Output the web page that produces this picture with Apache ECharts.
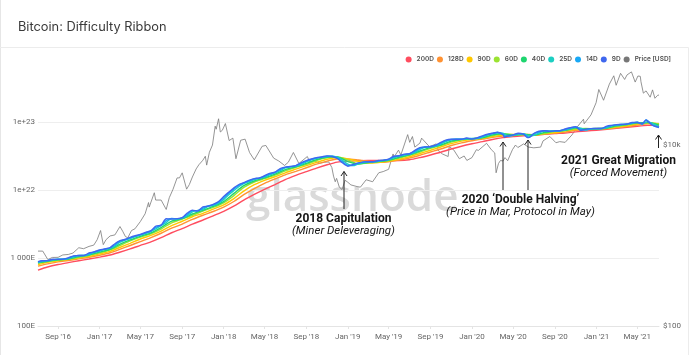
<!DOCTYPE html>
<html>
<head>
<meta charset="utf-8">
<script src="https://cdn.jsdelivr.net/npm/echarts@6/dist/echarts.min.js"></script>
<style>
html,body{margin:0;padding:0;background:#fff;}
#chart{width:700px;height:355px;}
</style>
</head>
<body>
<div id="chart"></div>
<script>
// ---- Difficulty ribbon (difficulty in T; plotted on a hidden axis equal to hashes = difficulty * 2^32) ----
const shortDates = [
'2016-07-04','2016-07-16','2016-08-01','2016-08-16','2016-09-01','2016-09-16','2016-10-01','2016-10-16','2016-11-01','2016-11-16','2016-12-01','2016-12-16',
'2017-01-01','2017-01-16','2017-02-01','2017-02-16','2017-03-01','2017-03-16','2017-04-01','2017-04-16','2017-05-01','2017-05-16','2017-06-01','2017-06-16',
'2017-07-01','2017-07-16','2017-08-01','2017-08-16','2017-09-01','2017-09-16','2017-10-01','2017-10-16','2017-11-01','2017-11-16','2017-12-01','2017-12-16',
'2018-01-01','2018-01-16','2018-02-01','2018-02-16','2018-03-01','2018-03-16','2018-04-01','2018-04-16','2018-05-01','2018-05-16','2018-06-01','2018-06-16',
'2018-07-01','2018-07-16','2018-08-01','2018-08-16','2018-09-01','2018-09-16','2018-10-01','2018-10-16','2018-11-01','2018-11-16','2018-12-01','2018-12-16',
'2019-01-01','2019-01-16','2019-02-01','2019-02-16','2019-03-01','2019-03-16','2019-04-01','2019-04-16','2019-05-01','2019-05-16','2019-06-01','2019-06-16',
'2019-07-01','2019-07-16','2019-08-01','2019-08-16','2019-09-01','2019-09-16','2019-10-01','2019-10-16','2019-11-01','2019-11-16','2019-12-01','2019-12-16',
'2020-01-01','2020-01-16','2020-02-01','2020-02-16','2020-03-01','2020-03-16','2020-04-01','2020-04-06','2020-04-16','2020-05-01','2020-05-16','2020-06-01','2020-06-12','2020-06-16',
'2020-07-01','2020-07-16','2020-08-01','2020-08-16','2020-09-01','2020-09-16','2020-10-01','2020-10-16','2020-11-01','2020-11-16','2020-12-01','2020-12-16',
'2021-01-01','2021-01-16','2021-02-01','2021-02-16','2021-03-01','2021-03-16','2021-04-01','2021-04-16','2021-05-01','2021-05-16','2021-05-27','2021-06-01','2021-06-16','2021-07-04'
];
const d9 = [
0.206,0.212,0.213,0.223,0.222,0.224,0.234,0.250,0.254,0.254,0.276,0.286,
0.305,0.316,0.332,0.381,0.416,0.436,0.468,0.494,0.517,0.552,0.589,0.688,0.709,0.880,0.873,0.882,0.916,1.067,1.177,1.138,1.316,1.350,1.431,1.562,
1.863,2.168,2.528,2.820,2.980,3.233,3.428,3.501,3.773,4.082,4.273,4.813,5.050,5.158,5.327,5.832,6.301,6.659,6.961,7.125,7.394,7.238,6.759,5.847,
5.214,5.516,5.830,6.033,6.069,6.062,6.315,6.390,6.642,7.308,7.419,7.829,7.934,8.838,9.801,9.985,10.14,10.65,11.67,12.59,12.96,12.98,12.97,13.55,
13.04,13.62,14.58,15.40,15.88,16.43,15.10,13.91,14.56,15.06,15.91,15.33,13.73,13.73,15.78,17.04,17.35,16.95,17.25,17.35,18.35,19.17,19.85,17.43,18.29,18.61,
18.66,18.67,20.22,20.78,21.31,21.45,21.79,22.89,22.90,22.09,25.05,23.72,20.68,19.31
];
const d14 = [
0.203,0.211,0.213,0.220,0.223,0.223,0.231,0.246,0.254,0.254,0.269,0.285,
0.300,0.314,0.328,0.367,0.409,0.432,0.459,0.488,0.512,0.543,0.580,0.659,0.709,0.826,0.888,0.875,0.907,1.022,1.154,1.156,1.256,1.355,1.405,1.528,
1.778,2.094,2.434,2.752,2.947,3.163,3.385,3.489,3.692,4.006,4.233,4.655,5.015,5.133,5.280,5.686,6.191,6.575,6.888,7.092,7.318,7.306,6.892,6.099,
5.349,5.388,5.764,5.987,6.069,6.064,6.236,6.387,6.564,7.119,7.432,7.698,7.934,8.556,9.571,9.985,10.09,10.50,11.39,12.37,12.90,12.99,12.97,13.37,
13.24,13.39,14.34,15.20,15.78,16.28,15.61,14.48,14.36,14.95,15.67,15.57,14.23,13.83,15.70,16.64,17.35,17.08,17.13,17.35,18.04,18.99,19.68,18.23,17.82,18.63,
18.64,18.67,19.74,20.73,21.16,21.44,21.68,22.57,23.16,21.56,25.05,24.19,20.81,19.53
];
const d25 = [
0.200,0.209,0.213,0.217,0.223,0.223,0.228,0.240,0.252,0.254,0.262,0.281,
0.293,0.310,0.323,0.351,0.395,0.424,0.449,0.479,0.504,0.531,0.567,0.627,0.699,0.773,0.883,0.875,0.896,0.974,1.113,1.165,1.203,1.335,1.380,1.483,
1.679,1.986,2.310,2.647,2.887,3.079,3.313,3.460,3.605,3.897,4.162,4.480,4.918,5.094,5.224,5.521,6.023,6.446,6.781,7.030,7.229,7.343,7.052,6.404,
5.585,5.314,5.646,5.913,6.051,6.066,6.157,6.351,6.485,6.899,7.369,7.572,7.882,8.273,9.227,9.893,10.04,10.34,11.05,12.04,12.75,12.97,12.97,13.19,
13.38,13.24,14.00,14.91,15.60,16.10,15.97,15.39,14.42,14.77,15.39,15.72,14.71,14.41,14.88,16.05,17.19,17.20,17.05,17.30,17.73,18.69,19.44,18.96,17.67,18.46,
18.63,18.66,19.25,20.48,20.98,21.38,21.57,22.21,23.18,22.09,23.10,23.50,22.04,19.89
];
const monthDates = [
'2016-07-04','2016-08-01','2016-09-01','2016-10-01','2016-11-01','2016-12-01',
'2017-01-01','2017-02-01','2017-03-01','2017-04-01','2017-05-01','2017-06-01','2017-07-01','2017-08-01','2017-09-01','2017-10-01','2017-11-01','2017-12-01',
'2018-01-01','2018-02-01','2018-03-01','2018-04-01','2018-05-01','2018-06-01','2018-07-01','2018-08-01','2018-09-01','2018-10-01','2018-11-01','2018-12-01',
'2019-01-01','2019-02-01','2019-03-01','2019-04-01','2019-05-01','2019-06-01','2019-07-01','2019-08-01','2019-09-01','2019-10-01','2019-11-01','2019-12-01',
'2020-01-01','2020-02-01','2020-03-01','2020-04-01','2020-05-01','2020-06-01','2020-07-01','2020-08-01','2020-09-01','2020-10-01','2020-11-01','2020-12-01',
'2021-01-01','2021-02-01','2021-03-01','2021-04-01','2021-05-01','2021-06-01','2021-07-04'
];
const d40 = [0.198,0.209,0.219,0.2255,0.244,0.258,
0.284,0.313,0.369,0.429,0.485,0.544,0.651,0.811,0.881,1.033,1.171,1.334,
1.575,2.096,2.691,3.156,3.501,3.976,4.639,5.103,5.735,6.515,7.074,7.138,
6.102,5.608,5.906,6.112,6.386,7.060,7.667,8.710,9.779,10.69,12.18,12.89,
13.23,13.69,15.05,15.67,14.90,15.37,14.85,16.37,17.07,17.52,18.89,18.37,
18.49,19.03,20.48,21.39,22.59,22.93,20.89];
const d60 = [0.1955,0.206,0.2168,0.2242,0.2382,0.2553,
0.2763,0.306,0.353,0.4148,0.4715,0.5293,0.6205,0.7675,0.8718,0.9855,1.1413,1.2895,
1.5093,1.944,2.5433,3.0508,3.4215,3.8445,4.462,5.0075,5.556,6.3143,6.9548,7.1565,
6.441,5.6595,5.7895,6.0825,6.3045,6.8625,7.5305,8.4075,9.523,10.468,11.754,12.793,
13.144,13.561,14.638,15.60,15.18,15.12,15.108,15.778,17.03,17.38,18.48,18.68,
18.348,18.895,20.038,21.235,22.24,22.93,21.57];
const d90 = [0.1865,0.201,0.2112,0.2201,0.2326,0.2458,
0.2673,0.291,0.3325,0.3833,0.4428,0.5008,0.58,0.6982,0.8083,0.9415,1.0575,1.22,
1.4067,1.7552,2.2425,2.7828,3.2275,3.6503,4.1683,4.7077,5.3093,5.9425,6.6075,7.0095,
6.692,6.146,5.7807,5.907,6.2107,6.6223,7.176,8.0243,8.9497,9.9828,11.18,12.163,
12.964,13.368,14.194,15.005,15.273,15.327,14.945,15.725,16.218,17.24,18.02,18.34,
18.665,18.617,19.57,20.542,21.8,22.47,22.02];
const d128 = [0.1769,0.1911,0.2043,0.2139,0.2261,0.2384,
0.2555,0.2781,0.3115,0.3556,0.4065,0.4648,0.5384,0.6386,0.7344,0.8614,0.991,1.124,
1.3045,1.5912,1.987,2.444,2.9185,3.3905,3.8893,4.3706,4.941,5.5869,6.1868,6.6622,
6.6605,6.4226,6.1666,5.9304,6.0335,6.4289,6.8749,7.5639,8.4287,9.3341,10.503,11.506,
12.334,13.069,13.829,14.504,14.833,15.286,15.159,15.463,16.0,16.533,17.605,17.979,
18.351,18.734,19.198,19.97,21.02,21.943,21.858];
const d200 = [0.1547,0.1716,0.1866,0.199,0.2124,0.2251,
0.2397,0.2573,0.283,0.3164,0.3562,0.4025,0.4644,0.5478,0.6301,0.732,0.8434,0.9728,
1.1293,1.3561,1.6548,2.0026,2.3741,2.8038,3.3088,3.8112,4.3307,4.8924,5.4688,5.973,
6.1808,6.2697,6.3513,6.3373,6.2707,6.2849,6.4707,6.9755,7.6257,8.3578,9.3174,10.256,
11.14,11.978,12.893,13.704,14.165,14.599,14.823,15.346,15.744,16.061,16.668,17.128,
17.647,18.195,18.786,19.427,20.126,20.751,21.042];

// ---- Price [USD] ----
const priceDates = [
'2016-07-04','2016-07-18','2016-08-02','2016-08-15','2016-09-01','2016-09-15','2016-10-01','2016-10-15','2016-11-01','2016-11-15','2016-12-01','2016-12-15','2016-12-25',
'2017-01-04','2017-01-12','2017-01-20','2017-02-01','2017-02-15','2017-03-02','2017-03-10','2017-03-18','2017-03-25','2017-04-05','2017-04-15','2017-05-01','2017-05-15','2017-05-25','2017-05-27',
'2017-06-11','2017-06-15','2017-07-01','2017-07-16','2017-07-25','2017-08-05','2017-08-17','2017-08-24','2017-09-01','2017-09-14','2017-09-22','2017-10-01','2017-10-12','2017-10-20',
'2017-11-01','2017-11-08','2017-11-12','2017-11-20','2017-11-29','2017-12-07','2017-12-10','2017-12-17','2017-12-22','2017-12-28',
'2018-01-06','2018-01-17','2018-01-28','2018-02-06','2018-02-20','2018-03-05','2018-03-18','2018-04-01','2018-04-06','2018-04-24','2018-05-05','2018-05-28','2018-06-12','2018-06-29',
'2018-07-10','2018-07-25','2018-08-10','2018-08-14','2018-09-04','2018-09-12','2018-09-21','2018-10-11','2018-10-25','2018-11-06','2018-11-15','2018-11-20','2018-11-25','2018-11-29','2018-12-07','2018-12-15','2018-12-24',
'2019-01-01','2019-01-10','2019-01-28','2019-02-07','2019-02-24','2019-03-15','2019-04-02','2019-04-15','2019-05-01','2019-05-14','2019-05-17','2019-05-30','2019-06-06','2019-06-26',
'2019-07-02','2019-07-10','2019-07-17','2019-08-01','2019-08-06','2019-08-29','2019-09-18','2019-09-25','2019-10-06','2019-10-23','2019-10-26','2019-11-08','2019-11-25','2019-12-09','2019-12-17',
'2020-01-01','2020-01-14','2020-01-20','2020-02-13','2020-02-27','2020-03-08','2020-03-12','2020-03-19','2020-03-25','2020-04-01','2020-04-07','2020-04-15','2020-04-29','2020-05-08','2020-05-15',
'2020-06-01','2020-06-15','2020-07-01','2020-07-21','2020-07-28','2020-08-17','2020-09-04','2020-09-15','2020-10-01','2020-10-21','2020-11-05','2020-11-24','2020-11-26','2020-12-16','2020-12-31',
'2021-01-08','2021-01-22','2021-02-08','2021-02-21','2021-02-28','2021-03-13','2021-03-25','2021-04-01','2021-04-14','2021-04-25','2021-05-03','2021-05-10','2021-05-12','2021-05-19','2021-05-24',
'2021-05-27','2021-06-08','2021-06-15','2021-06-22','2021-06-30','2021-07-04'
];
const priceUSD = [
670,670,540,570,572,608,615,638,730,712,755,780,895,
1130,790,895,985,1010,1250,1110,970,940,1130,1180,1420,1730,2300,2050,
2950,2450,2450,1930,2600,3220,4300,4300,4890,3230,3630,4400,5400,6000,
6750,7450,5950,8250,9900,16000,14800,19300,13800,14400,
17100,11100,11800,7000,11200,11500,8200,6800,6600,9600,9800,7100,6600,5900,
6400,8200,6200,6000,7400,6300,6700,6250,6400,6450,5600,4500,3900,4250,3400,3200,4050,
3850,3600,3450,3400,4100,3900,4900,5050,5350,7900,7300,8700,7700,12900,
10600,12300,9400,10400,11800,9500,10200,8500,7900,7400,9500,8800,7000,7500,6700,
7200,8800,8650,10350,8800,8100,4900,6200,6700,6600,7200,6650,8800,9900,9300,
10200,9400,9230,9400,11000,12300,10500,10800,10600,12800,15600,19100,17000,21300,29000,
40600,30900,46500,57500,45200,61200,52400,58800,63500,49000,57200,56700,49400,37000,38800,
39200,33400,40200,32500,35000,35300
];

// ---- Axis labels ----
const xTickDates = ['2016-09-01','2017-01-01','2017-05-01','2017-09-01','2018-01-01','2018-05-01','2018-09-01',
  '2019-01-01','2019-05-01','2019-09-01','2020-01-01','2020-05-01','2020-09-01','2021-01-01','2021-05-01'];
const leftTickLabels = {20:'100E', 21:'1 000E', 22:'1e+22', 23:'1e+23', 24:''};
const rightTickLabels = {2:'$100', 3:'', 4:'$10k', 5:''};
const monthNames = ['Jan','Feb','Mar','Apr','May','Jun','Jul','Aug','Sep','Oct','Nov','Dec'];

const seriesDefs = [
  {name:'200D', color:'#ff4d5f', dates: monthDates, vals: d200},
  {name:'128D', color:'#ff9233', dates: monthDates, vals: d128},
  {name:'90D',  color:'#ffc800', dates: monthDates, vals: d90},
  {name:'60D',  color:'#9be332', dates: monthDates, vals: d60},
  {name:'40D',  color:'#1ed56f', dates: monthDates, vals: d40},
  {name:'25D',  color:'#1ccfc2', dates: shortDates, vals: d25},
  {name:'14D',  color:'#19a8f5', dates: shortDates, vals: d14},
  {name:'9D',   color:'#3f67ee', dates: shortDates, vals: d9}
];

function parseDay(s){ const p = s.split('-'); return Date.UTC(+p[0], +p[1]-1, +p[2]); }

const chart = echarts.init(document.getElementById('chart'), null, {renderer:'canvas'});

const series = [{
  name:'Price [USD]', type:'line', yAxisIndex:1, showSymbol:false, symbol:'none',
  lineStyle:{width:0.8, color:'#7a7a7a'}, itemStyle:{color:'#777'}, z:2,
  data: priceDates.map((d,i)=>[parseDay(d), priceUSD[i]])
}];
seriesDefs.forEach((s, k) => {
  series.push({
    name:s.name, type:'line', yAxisIndex:2, showSymbol:false, symbol:'none', smooth:0.25,
    lineStyle:{width:1.4, color:s.color}, itemStyle:{color:s.color}, z:3 + k,
    data: s.dates.map((d,i)=>[parseDay(d), s.vals[i]])
  });
});

const HASH_PER_T = 4294967296e12; // difficulty (T) -> hashes
const arrowStyle = {stroke:'#222', lineWidth:1};
function arrow(x, y0, y1){
  return [
    {type:'line', z:100, shape:{x1:x, y1:y0, x2:x, y2:y1}, style:arrowStyle},
    {type:'polyline', z:100, shape:{points:[[x-3,y1+4.5],[x,y1],[x+3,y1+4.5]]}, style:Object.assign({fill:null}, arrowStyle)}
  ];
}
function label(text, x, y, font){
  return {type:'text', z:100, x:x, y:y, style:{text:text, fill:'#151515', font:font, textAlign:'center', textVerticalAlign:'middle'}};
}

const option = {
  animation:false,
  backgroundColor:'#ffffff',
  title:{text:'Bitcoin: Difficulty Ribbon', left:13, top:16,
    textStyle:{fontSize:12.8, fontWeight:'normal', color:'#3a3a3a', fontFamily:'Inter'}},
  legend:{
    top:51, right:24, itemWidth:6, itemHeight:6, itemGap:3, icon:'circle',
    textStyle:{fontSize:6.5, color:'#505050', fontFamily:'Inter', fontWeight:600},
    data:['200D','128D','90D','60D','40D','25D','14D','9D','Price [USD]']
  },
  grid:{left:38, right:41, top:54, bottom:29, containLabel:false},
  xAxis:{
    type:'value', min:parseDay('2016-07-04'), max:parseDay('2021-07-04'),
    axisLine:{show:true, lineStyle:{color:'#e4e4e4'}},
    axisTick:{show:true, length:3, lineStyle:{color:'#e4e4e4'}, customValues: xTickDates.map(parseDay)},
    axisLabel:{customValues: xTickDates.map(parseDay), color:'#666', fontSize:8, fontFamily:'Roboto', margin:7,
      formatter:function(v){ const d=new Date(v); return monthNames[d.getUTCMonth()]+" '"+String(d.getUTCFullYear()).slice(2); }},
    splitLine:{show:false}
  },
  yAxis:[
    {type:'log', logBase:10, min:1e20, max:1e24, position:'left',
     axisLine:{show:false}, axisTick:{show:false},
     axisLabel:{color:'#666', fontSize:8, fontFamily:'Roboto', margin:3,
       formatter:function(v){ const e=Math.round(Math.log10(v)); return leftTickLabels[e] !== undefined ? leftTickLabels[e] : ''; }},
     splitLine:{show:true, showMaxLine:false, lineStyle:{color:'#eeeeee', width:1}}},
    {type:'log', logBase:10, min:100, max:100000, position:'right',
     axisLine:{show:false}, axisTick:{show:false}, splitLine:{show:false},
     axisLabel:{color:'#666', fontSize:8, fontFamily:'Roboto', margin:4,
       formatter:function(v){ const e=Math.round(Math.log10(v)); return rightTickLabels[e] || ''; }}},
    {type:'log', logBase:10, min:1e20/HASH_PER_T, max:1e24/HASH_PER_T, show:false,
     axisLine:{show:false}, axisTick:{show:false}, splitLine:{show:false}, axisLabel:{show:false}}
  ],
  graphic:[
    {type:'line', z:-1, silent:true, shape:{x1:0.5,y1:0,x2:0.5,y2:355}, style:{stroke:'#e6e6e6', lineWidth:1}},
    {type:'polyline', z:-1, silent:true, shape:{points:[[0,47.5],[688.5,47.5],[688.5,355]]}, style:{stroke:'#ececec', lineWidth:1, fill:null}},
    {type:'text', z:0, silent:true, x:246, y:198, style:{text:'glassnode', fill:'#dadada', font:'600 44px "Open Sans"', textAlign:'left', textVerticalAlign:'middle'}},
    ...arrow(344, 209, 171.5),
    ...arrow(503, 190, 142),
    ...arrow(528, 190, 140),
    ...arrow(658.5, 148, 135),
    label('2018 Capitulation', 343.5, 219, 'bold 12px Roboto'),
    label('(Miner Deleveraging)', 343.5, 231.5, 'italic 11.5px Roboto'),
    label('2020 \u2018Double Halving\u2019', 520.5, 199.5, 'bold 12px Roboto'),
    label('(Price in Mar, Protocol in May)', 520.5, 212, 'italic 11.5px Roboto'),
    label('2021 Great Migration', 618.5, 161, 'bold 12px Roboto'),
    label('(Forced Movement)', 618.5, 173.5, 'italic 11.5px Roboto')
  ],
  series: series
};
chart.setOption(option);
</script>
</body>
</html>
